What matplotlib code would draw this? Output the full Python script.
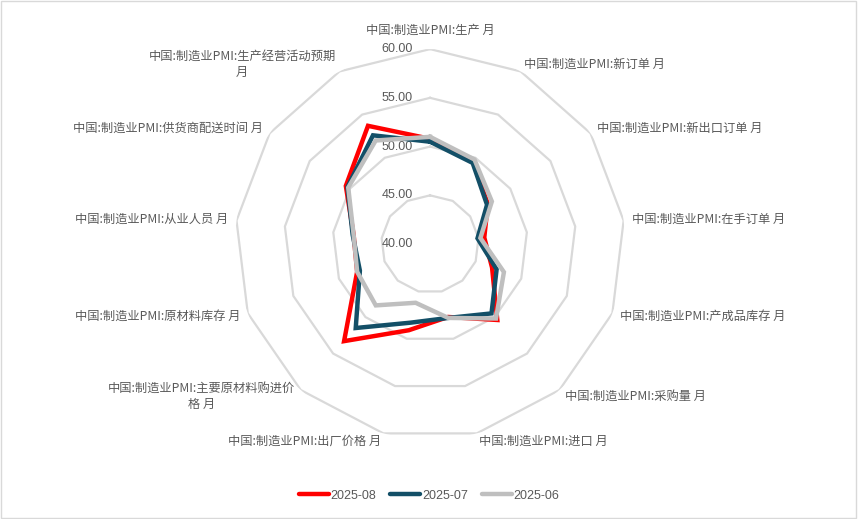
import numpy as np
import matplotlib
matplotlib.use("Agg")
import matplotlib.pyplot as plt
from matplotlib.patches import Rectangle

plt.rcParams['font.family'] = ['Noto Sans CJK SC', 'DejaVu Sans']

categories = [
    "中国:制造业PMI:生产 月",
    "中国:制造业PMI:新订单 月",
    "中国:制造业PMI:新出口订单 月",
    "中国:制造业PMI:在手订单 月",
    "中国:制造业PMI:产成品库存 月",
    "中国:制造业PMI:采购量 月",
    "中国:制造业PMI:进口 月",
    "中国:制造业PMI:出厂价格 月",
    "中国:制造业PMI:主要原材料购进价\n格 月",
    "中国:制造业PMI:原材料库存 月",
    "中国:制造业PMI:从业人员 月",
    "中国:制造业PMI:供货商配送时间 月",
    "中国:制造业PMI:生产经营活动预期\n月",
]
pmi_2025_08 = [50.8, 49.5, 47.2, 45.6, 46.8, 50.4, 47.7, 49.1, 53.3, 48.0, 47.9, 50.5, 53.7]
pmi_2025_07 = [50.5, 49.4, 47.1, 44.9, 47.3, 49.5, 47.8, 48.3, 51.5, 47.7, 48.0, 50.3, 52.6]
pmi_2025_06 = [51.0, 49.8, 47.7, 45.2, 48.1, 50.2, 47.8, 46.2, 48.4, 48.0, 47.9, 50.2, 52.0]
series_names = ["2025-08", "2025-07", "2025-06"]
ring_values = [45, 50, 55, 60]
tick_values = [40, 45, 50, 55, 60]

colors = ["#FF0000", "#134F67", "#BFBFBF"]
text_color = "#595959"

n = len(categories)
theta = np.arange(n) * 2 * np.pi / n
theta_closed = np.append(theta, theta[0])

fig = plt.figure(figsize=(8.58, 5.19), dpi=100)
ax = fig.add_axes([0.274, 0.154, 0.4545, 0.7514], projection='polar')
ax.set_theta_zero_location('N')
ax.set_theta_direction(-1)
ax.set_ylim(40, 60)
ax.grid(False)
ax.spines['polar'].set_visible(False)
ax.set_xticks([])
ax.set_yticks([])
ax.patch.set_alpha(0)

# polygon grid rings
for rv in ring_values:
    ax.plot(theta_closed, [rv] * (n + 1), color="#D9D9D9", lw=1.6, zorder=1)

# radial value labels
for tv in tick_values:
    ax.annotate(f"{tv:.2f}", xy=(0, tv), xytext=(-17, 0), textcoords='offset pixels',
                ha='right', va='center', fontsize=9, color=text_color,
                family=['Liberation Sans', 'DejaVu Sans'], annotation_clip=False)

# series
for vals, name, c, z in zip([pmi_2025_08, pmi_2025_07, pmi_2025_06], series_names, colors, [3, 4, 5]):
    v = list(vals) + [vals[0]]
    ax.plot(theta_closed, v, color=c, lw=3.2, label=name, zorder=z, solid_joinstyle='miter')

# category labels
for i, (t, lab) in enumerate(zip(theta, categories)):
    s, c = np.sin(t), np.cos(t)
    dx, dy = 8 * s, 8 * c
    if abs(s) < 0.05:
        ha = 'center'
        dy = 19
    elif s > 0:
        ha = 'left'
    else:
        ha = 'right'
    ax.annotate(lab, xy=(t, 60), xytext=(dx, dy), textcoords='offset pixels',
                ha=ha, va='center', multialignment='center', fontsize=8.8,
                color=text_color, annotation_clip=False, linespacing=1.3)

leg = fig.legend(loc='center', bbox_to_anchor=(0.5, 0.045), ncol=3, frameon=False,
                 handlelength=2.4, handletextpad=0.15, columnspacing=1.1,
                 prop={'family': ['Liberation Sans', 'DejaVu Sans'], 'size': 9})
for t in leg.get_texts():
    t.set_color(text_color)
for h in leg.get_lines():
    h.set_linewidth(3.2)
    h.set_solid_capstyle('round')

fig.patches.append(Rectangle((0.001, 0.001), 0.997, 0.997, transform=fig.transFigure,
                             fill=False, edgecolor="#D9D9D9", lw=1.0))

fig.savefig("out.png", dpi=100)
